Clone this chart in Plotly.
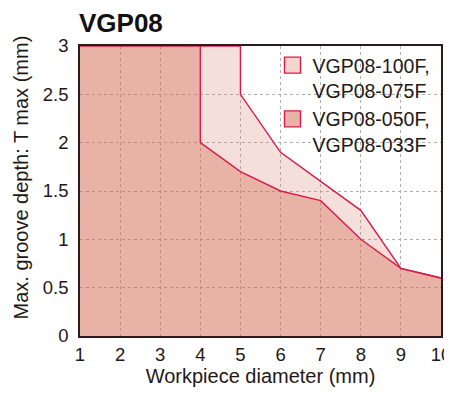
import plotly.graph_objects as go

# Data
x_upper = [4, 5, 5, 6, 7, 8, 9, 10]
t_upper = [3, 3, 2.5, 1.9, 1.6, 1.3, 0.7, 0.6]      # VGP08-100F, VGP08-075F
x_lower = [1, 4, 4, 5, 6, 7, 8, 9, 10]
t_lower = [3, 3, 2.0, 1.7, 1.5, 1.4, 1.0, 0.7, 0.6]  # VGP08-050F, VGP08-033F

name_upper = "VGP08-100F,<br>VGP08-075F"
name_lower = "VGP08-050F,<br>VGP08-033F"

x_ticks = [1, 2, 3, 4, 5, 6, 7, 8, 9, 10]
y_ticks = [0, 0.5, 1, 1.5, 2, 2.5, 3]
y_tick_text = ["0", "0.5", "1", "1.5", "2", "2.5", "3"]

RED = "#d81b4a"
DARK_FILL = "rgba(209,101,77,0.5)"
LIGHT_FILL = "rgba(214,120,100,0.24)"
DARK_SOLID = "#e8b2a6"
LIGHT_SOLID = "#f5d6cf"
TXT = "#231815"
FONT = "Liberation Sans, Arial, Helvetica, sans-serif"

# the page body adds an 8px offset; lay the figure out 8px up/left
OFF = 8
W, H = 452, 398
L, T = 80 - OFF, 46 - OFF
R = W - (441 - OFF)
B = H - (336 - OFF)
PW, PH = W - L - R, H - T - B

fig = go.Figure()
fig.add_trace(go.Scatter(x=x_lower, y=t_lower, mode="lines", fill="tozeroy",
                         fillcolor=DARK_FILL, line=dict(color=RED, width=1.4),
                         showlegend=False, hoverinfo="skip"))
fig.add_trace(go.Scatter(x=x_upper, y=t_upper, mode="lines", fill="tonexty",
                         fillcolor=LIGHT_FILL, line=dict(color=RED, width=1.4),
                         showlegend=False, hoverinfo="skip"))
# legend entries
fig.add_trace(go.Scatter(x=[None], y=[None], mode="markers", name=name_upper,
                         marker=dict(symbol="square", size=16, color=LIGHT_SOLID,
                                     line=dict(color=RED, width=1.4))))
fig.add_trace(go.Scatter(x=[None], y=[None], mode="markers", name=name_lower,
                         marker=dict(symbol="square", size=16, color=DARK_SOLID,
                                     line=dict(color=RED, width=1.4))))

grid = dict(showgrid=True, gridcolor="#b0b0b0", gridwidth=1, griddash="3px,3px",
            showline=True, linecolor="#2e1a1a", linewidth=1.5, mirror=True,
            ticks="", zeroline=False, automargin=False,
            tickfont=dict(family=FONT, size=18.5, color=TXT))

# white backdrop behind the legend (hides the grid, stays under the areas)
backdrops = [
    dict(type="rect", xref="paper", yref="paper", layer="between",
         x0=(273 - 80) / 361, x1=1, y0=(336 - 140) / 290, y1=(336 - 55) / 290,
         fillcolor="white", line=dict(width=0)),
    dict(type="rect", xref="paper", yref="paper", layer="between",
         x0=(305 - 80) / 361, x1=1, y0=(336 - 153) / 290, y1=(336 - 140) / 290,
         fillcolor="white", line=dict(width=0)),
]

fig.update_layout(
    width=W, height=H,
    margin=dict(l=L, r=R, t=T, b=B, autoexpand=False),
    paper_bgcolor="white", plot_bgcolor="white",
    font=dict(family=FONT, color=TXT),
    title=dict(text="<b>VGP08</b>", font=dict(family=FONT, size=26, color="#111111"),
               xref="container", yref="container", x=(79 - OFF) / W, xanchor="left",
               y=1 - 15 / H, yanchor="middle"),
    xaxis=dict(range=[1, 10], tickvals=x_ticks, ticklabelstandoff=1,
               title=dict(text="Workpiece diameter (mm)", standoff=4,
                          font=dict(family=FONT, size=20, color=TXT)), **grid),
    yaxis=dict(range=[0, 3], tickvals=y_ticks, ticktext=y_tick_text, ticklabelstandoff=6,
               **grid),
    legend=dict(x=(264.5 - L) / PW, y=1.0, xanchor="left", yanchor="top",
                bgcolor="rgba(0,0,0,0)", valign="top",
                font=dict(family=FONT, size=19.5, color=TXT),
                traceorder="normal", itemsizing="trace"),
    shapes=backdrops,
    annotations=[dict(text="Max. groove depth: T max (mm)", textangle=-90,
                      xref="paper", yref="paper", x=(20 - 80) / 361, y=(336 - 177.5) / 290,
                      xanchor="center", yanchor="middle", showarrow=False,
                      font=dict(family=FONT, size=20, color=TXT))],
)

fig.write_html("out.html")
